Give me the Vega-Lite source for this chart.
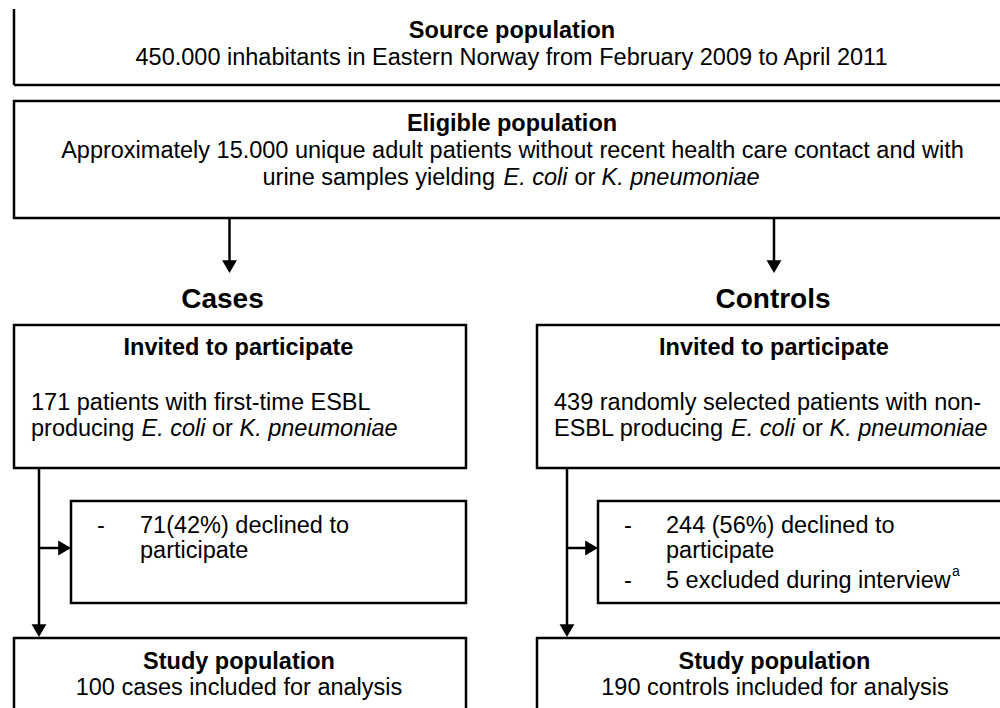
{
  "$schema": "https://vega.github.io/schema/vega-lite/v6.json",
  "width": 1000,
  "height": 708,
  "autosize": "none",
  "padding": 0,
  "background": "white",
  "config": {"view": {"stroke": null}},
  "datasets": {
    "boxes": [
      {"box": "Eligible population", "x": 14, "x2": 1012, "y": 101, "y2": 218},
      {"box": "Cases invited", "x": 14, "x2": 466, "y": 325, "y2": 468},
      {"box": "Controls invited", "x": 537, "x2": 1012, "y": 325, "y2": 468},
      {"box": "Cases declined", "x": 71, "x2": 466, "y": 501, "y2": 603},
      {"box": "Controls declined or excluded", "x": 598, "x2": 1012, "y": 501, "y2": 603},
      {"box": "Cases study population", "x": 14, "x2": 466, "y": 638, "y2": 730},
      {"box": "Controls study population", "x": 537, "x2": 1012, "y": 638, "y2": 730}
    ],
    "lines": [
      {"seg": "source box left", "x": 14, "y": 9, "x2": 14, "y2": 85},
      {"seg": "source box bottom", "x": 14, "y": 85, "x2": 1012, "y2": 85},
      {"seg": "to cases", "x": 229.5, "y": 218, "x2": 229.5, "y2": 262},
      {"seg": "to controls", "x": 774, "y": 218, "x2": 774, "y2": 262},
      {"seg": "cases down", "x": 39, "y": 468, "x2": 39, "y2": 626},
      {"seg": "cases side", "x": 39, "y": 548, "x2": 59, "y2": 548},
      {"seg": "controls down", "x": 567, "y": 468, "x2": 567, "y2": 626},
      {"seg": "controls side", "x": 567, "y": 548, "x2": 586, "y2": 548}
    ],
    "heads": [
      {"x": 229.5, "y": 266.6, "dir": "down"},
      {"x": 774, "y": 266.6, "dir": "down"},
      {"x": 39, "y": 630.6, "dir": "down"},
      {"x": 567, "y": 630.6, "dir": "down"},
      {"x": 64.6, "y": 548, "dir": "right"},
      {"x": 591.6, "y": 548, "dir": "right"}
    ],
    "labels": [
      {"text": "Source population", "x": 512, "y": 38, "kind": "title"},
      {"text": "450.000 inhabitants in Eastern Norway from February 2009 to April 2011", "x": 511.5, "y": 65, "kind": "centred"},
      {"text": "Eligible population", "x": 512, "y": 131, "kind": "title"},
      {"text": "Approximately 15.000 unique adult patients without recent health care contact and with", "x": 512.5, "y": 158, "kind": "centred"},
      {"text": "urine samples yielding", "x": 262.5, "y": 185, "kind": "line"},
      {"text": "E. coli", "x": 503.5, "y": 185, "kind": "species"},
      {"text": "or", "x": 574.5, "y": 185, "kind": "line"},
      {"text": "K. pneumoniae", "x": 601.5, "y": 185, "kind": "species"},
      {"text": "Cases", "x": 222.5, "y": 308, "kind": "group"},
      {"text": "Controls", "x": 773, "y": 308, "kind": "group"},
      {"text": "Invited to participate", "x": 238.5, "y": 355, "kind": "title"},
      {"text": "Invited to participate", "x": 774, "y": 355, "kind": "title"},
      {"text": "171 patients with first-time ESBL", "x": 31, "y": 410, "kind": "line"},
      {"text": "producing", "x": 31, "y": 436, "kind": "line"},
      {"text": "E. coli", "x": 141.5, "y": 436, "kind": "species"},
      {"text": "or", "x": 212, "y": 436, "kind": "line"},
      {"text": "K. pneumoniae", "x": 239.5, "y": 436, "kind": "species"},
      {"text": "439 randomly selected patients with non-", "x": 554, "y": 410, "kind": "line"},
      {"text": "ESBL producing", "x": 554, "y": 436, "kind": "line"},
      {"text": "E. coli", "x": 731, "y": 436, "kind": "species"},
      {"text": "or", "x": 802, "y": 436, "kind": "line"},
      {"text": "K. pneumoniae", "x": 829.5, "y": 436, "kind": "species"},
      {"text": "-", "x": 97, "y": 533, "kind": "line"},
      {"text": "71(42%) declined to", "x": 140, "y": 533, "kind": "line"},
      {"text": "participate", "x": 140, "y": 558, "kind": "line"},
      {"text": "-", "x": 624, "y": 533, "kind": "line"},
      {"text": "244 (56%) declined to", "x": 666, "y": 533, "kind": "line"},
      {"text": "participate", "x": 666, "y": 558, "kind": "line"},
      {"text": "-", "x": 624, "y": 588, "kind": "line"},
      {"text": "5 excluded during interview", "x": 666, "y": 588, "kind": "line"},
      {"text": "a", "x": 952, "y": 576, "kind": "footnote mark"},
      {"text": "Study population", "x": 239, "y": 669, "kind": "title"},
      {"text": "100 cases included for analysis", "x": 239, "y": 695, "kind": "centred"},
      {"text": "Study population", "x": 774.5, "y": 669, "kind": "title"},
      {"text": "190 controls included for analysis", "x": 775, "y": 695, "kind": "centred"}
    ]
  },
  "encoding": {
    "x": {"field": "x", "type": "quantitative", "scale": {"domain": [0, 1000], "nice": false, "zero": false}, "axis": null},
    "y": {"field": "y", "type": "quantitative", "scale": {"domain": [0, 708], "reverse": true, "nice": false, "zero": false}, "axis": null}
  },
  "layer": [
    {
      "data": {"name": "boxes"},
      "mark": {"type": "rect", "fill": "white", "stroke": "black", "strokeWidth": 2.5},
      "encoding": {"x2": {"field": "x2"}, "y2": {"field": "y2"}}
    },
    {
      "data": {"name": "lines"},
      "mark": {"type": "rule", "color": "black", "strokeWidth": 2.5},
      "encoding": {"x2": {"field": "x2"}, "y2": {"field": "y2"}}
    },
    {
      "data": {"name": "heads"},
      "mark": {"type": "point", "filled": true, "color": "black", "opacity": 1, "size": 220, "strokeWidth": 0},
      "encoding": {
        "shape": {"field": "dir", "type": "nominal", "scale": {"domain": ["down", "right"], "range": ["triangle-down", "triangle-right"]}, "legend": null}
      }
    },
    {
      "data": {"name": "labels"},
      "transform": [{"filter": "datum.kind === 'title'"}],
      "mark": {"type": "text", "font": "Liberation Sans", "fontSize": 23.5, "fontWeight": "bold", "align": "center", "baseline": "alphabetic", "color": "black"},
      "encoding": {"text": {"field": "text"}}
    },
    {
      "data": {"name": "labels"},
      "transform": [{"filter": "datum.kind === 'group'"}],
      "mark": {"type": "text", "font": "Liberation Sans", "fontSize": 28, "fontWeight": "bold", "align": "center", "baseline": "alphabetic", "color": "black"},
      "encoding": {"text": {"field": "text"}}
    },
    {
      "data": {"name": "labels"},
      "transform": [{"filter": "datum.kind === 'centred'"}],
      "mark": {"type": "text", "font": "Liberation Sans", "fontSize": 23.5, "align": "center", "baseline": "alphabetic", "color": "black"},
      "encoding": {"text": {"field": "text"}}
    },
    {
      "data": {"name": "labels"},
      "transform": [{"filter": "datum.kind === 'line'"}],
      "mark": {"type": "text", "font": "Liberation Sans", "fontSize": 23.5, "align": "left", "baseline": "alphabetic", "color": "black"},
      "encoding": {"text": {"field": "text"}}
    },
    {
      "data": {"name": "labels"},
      "transform": [{"filter": "datum.kind === 'species'"}],
      "mark": {"type": "text", "font": "Liberation Sans", "fontSize": 23.5, "fontStyle": "italic", "align": "left", "baseline": "alphabetic", "color": "black"},
      "encoding": {"text": {"field": "text"}}
    },
    {
      "data": {"name": "labels"},
      "transform": [{"filter": "datum.kind === 'footnote mark'"}],
      "mark": {"type": "text", "font": "Liberation Sans", "fontSize": 14, "align": "left", "baseline": "alphabetic", "color": "black"},
      "encoding": {"text": {"field": "text"}}
    }
  ]
}
